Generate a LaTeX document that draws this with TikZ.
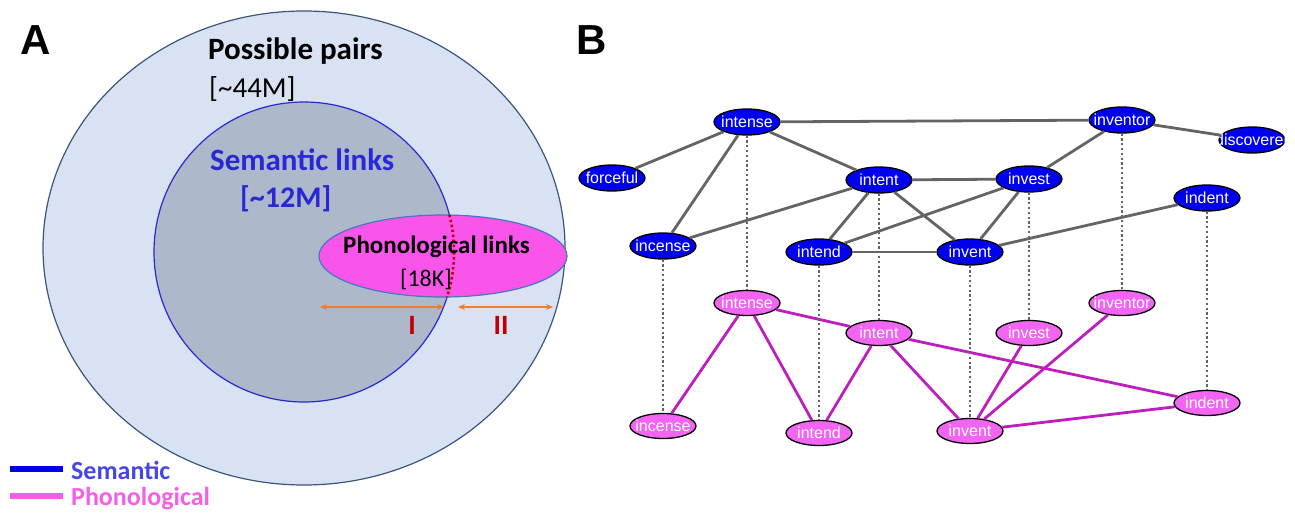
\documentclass[tikz,border=0pt]{standalone}
\usepackage{fontspec}
\setmainfont{Carlito}
\newfontfamily\arialfont{Liberation Sans}
\usetikzlibrary{shapes.geometric}
\usetikzlibrary{arrows.meta}

\definecolor{outerfill}{RGB}{217,226,242}
\definecolor{outerline}{RGB}{60,84,128}
\definecolor{innerfill}{RGB}{173,185,202}
\definecolor{innerline}{RGB}{40,40,215}
\definecolor{phonofill}{RGB}{250,85,235}
\definecolor{phonoline}{RGB}{70,120,190}
\definecolor{darkred}{RGB}{192,0,0}
\definecolor{arrorange}{RGB}{237,125,49}
\definecolor{semblue}{RGB}{0,0,238}
\definecolor{semtext}{RGB}{70,70,230}
\definecolor{phopink}{RGB}{242,100,242}
\definecolor{photext}{RGB}{245,95,230}
\definecolor{phoedgecol}{RGB}{190,30,190}
\definecolor{edgegray}{RGB}{100,100,100}

\newcommand{\wrd}[1]{\makebox[0pt]{#1}}

\tikzset{
  sem/.style={ellipse, draw=black, line width=1.3pt, fill=semblue, text=white,
    minimum width=66pt, minimum height=26pt, inner sep=0pt,
    font=\arialfont\fontsize{16}{16}\selectfont},
  pho/.style={sem, fill=phopink, minimum height=25pt},
  semedge/.style={line width=2.8pt, draw=edgegray},
  phoedge/.style={line width=2.8pt, draw=phoedgecol},
  tie/.style={line width=2.2pt, draw=edgegray, dash pattern=on 2.2pt off 2.6pt},
  span/.style={line width=1.5pt, draw=arrorange, {Stealth[length=7pt,width=6pt]}-{Stealth[length=7pt,width=6pt]}},
}

\begin{document}
\begin{tikzpicture}[x=1pt, y=-1pt]
\useasboundingbox (0,0) rectangle (1295,514);

% panel A
\draw[draw=outerline, fill=outerfill, line width=1.2pt] (304,248) ellipse [x radius=261pt, y radius=237pt];
\draw[draw=innerline, fill=innerfill, line width=1.2pt] (304,252) circle [radius=150pt];
\draw[draw=phonoline, fill=phonofill, line width=1.2pt] (443,256) ellipse [x radius=124pt, y radius=41pt];
\begin{scope}
  \clip (443,256) ellipse [x radius=124pt, y radius=41pt];
  \draw[darkred, line width=2.6pt, dash pattern=on 2.4pt off 2.6pt] (304,252) circle [radius=150pt];
\end{scope}

\node[font=\arialfont\bfseries\fontsize{42}{42}\selectfont] (labA) at (36,40) {A};
\node[font=\bfseries\fontsize{31}{31}\selectfont, anchor=west, inner sep=0pt] (pairs) at (208,51) {Possible pairs};
\node[font=\fontsize{29}{29}\selectfont, anchor=west, inner sep=0pt] (pairsN) at (209,89) {[\textasciitilde44M]};
\node[font=\bfseries\fontsize{31}{31}\selectfont, text=innerline, anchor=west, inner sep=0pt] (semL) at (210,160) {Semantic links};
\node[font=\bfseries\fontsize{30}{30}\selectfont, text=innerline, anchor=west, inner sep=0pt] (semN) at (240,199) {[\textasciitilde12M]};
\node[font=\bfseries\fontsize{25}{25}\selectfont, anchor=west, inner sep=0pt] (phoL) at (343,247) {Phonological links};
\node[font=\fontsize{24}{24}\selectfont, anchor=west, inner sep=0pt] (phoN) at (400,279) {[18K]};

\coordinate (spanIa) at (320,307);
\coordinate (spanIb) at (444,307);
\coordinate (spanIIa) at (458,307);
\coordinate (spanIIb) at (553,307);
\draw[span] (spanIa) -- (spanIb);
\draw[span] (spanIIa) -- (spanIIb);
\node[font=\bfseries\fontsize{28}{28}\selectfont, text=darkred] (partI) at (412,325) {I};
\node[font=\bfseries\fontsize{28}{28}\selectfont, text=darkred] (partII) at (501,325) {II};

% legend
\coordinate (legSa) at (10,469);
\coordinate (legSb) at (63,469);
\coordinate (legPa) at (10,496);
\coordinate (legPb) at (63,496);
\draw[semblue, line width=6pt] (legSa) -- (legSb);
\draw[photext, line width=6pt] (legPa) -- (legPb);
\node[font=\bfseries\fontsize{26}{26}\selectfont, text=semtext, anchor=west, inner sep=0pt] (legS) at (71,470) {Semantic};
\node[font=\bfseries\fontsize{26}{26}\selectfont, text=photext, anchor=west, inner sep=0pt] (legP) at (71,499) {Phonological};

% panel B
\node[font=\arialfont\bfseries\fontsize{42}{42}\selectfont] (labB) at (592,40) {B};

% semantic network
\node[sem] (sIntense) at (747,122) {\wrd{intense}};
\node[sem] (sForceful) at (612,178) {\wrd{forceful}};
\node[sem] (sIntent) at (879,180) {\wrd{intent}};
\node[sem] (sIncense) at (663,246) {\wrd{incense}};
\node[sem] (sIntend) at (819,252) {\wrd{intend}};
\node[sem] (sInvent) at (970,252) {\wrd{invent}};
\node[sem] (sInvest) at (1029,179) {\wrd{invest}};
\node[sem] (sInventor) at (1122,120) {\wrd{inventor}};
\node[sem] (sDiscoverer) at (1252,140) {\wrd{discoverer}};
\node[sem] (sIndent) at (1207,198) {\wrd{indent}};

% phonological network
\node[pho] (pIntense) at (747,303) {\wrd{intense}};
\node[pho] (pIntent) at (879,333) {\wrd{intent}};
\node[pho] (pInvest) at (1029,333) {\wrd{invest}};
\node[pho] (pInventor) at (1122,303) {\wrd{inventor}};
\node[pho] (pIncense) at (663,426) {\wrd{incense}};
\node[pho] (pIntend) at (819,433) {\wrd{intend}};
\node[pho] (pInvent) at (970,431) {\wrd{invent}};
\node[pho] (pIndent) at (1207,403) {\wrd{indent}};

\foreach \a/\b in {sIntense/sForceful, sIntense/sIncense, sIntense/sIntent, sIntense/sInventor,
    sInventor/sDiscoverer, sInventor/sInvest, sInvest/sInvent, sIntent/sInvest, sIntent/sIncense,
    sIntent/sIntend, sIntent/sInvent, sIntend/sInvent, sIntend/sInvest, sInvent/sIndent}
  \draw[semedge] (\a) -- (\b);

\foreach \a/\b in {pIntense/pIncense, pIntense/pIntend, pIntense/pIntent, pIntent/pIntend,
    pIntent/pInvent, pIntent/pIndent, pInvest/pInvent, pInventor/pInvent, pInvent/pIndent}
  \draw[phoedge] (\a) -- (\b);

% same word in both networks
\foreach \w in {Incense, Intense, Intend, Intent, Invent, Invest, Inventor, Indent}
  \draw[tie] (s\w.south) -- (p\w.north);

\end{tikzpicture}
\end{document}
